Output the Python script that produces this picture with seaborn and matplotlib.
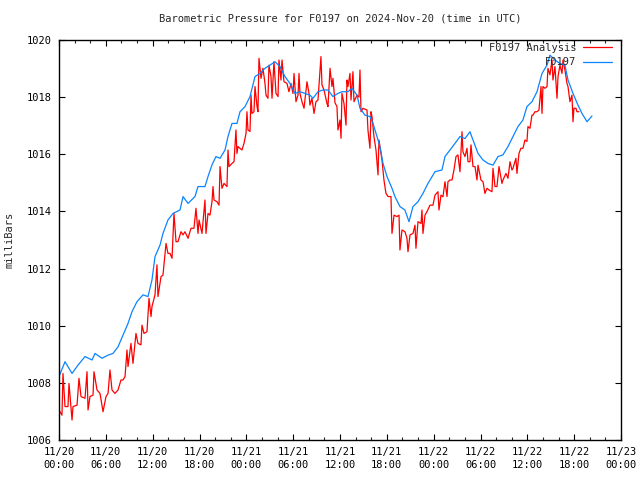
import pandas as pd
import matplotlib
matplotlib.use("Agg")
import matplotlib.pyplot as plt
import matplotlib.dates as mdates
from matplotlib.ticker import MultipleLocator
import seaborn as sns

# hours since 2024-11-20 00:00 UTC, pressure in milliBars
analysis_hours = [0.00, 0.38, 0.51, 0.77, 1.15, 1.28, 1.67, 1.79, 2.31, 2.56, 2.82, 3.33, 3.59, 3.72, 3.97,
                  4.36, 4.48, 4.87, 5.25, 5.64, 6.02, 6.28, 6.53, 6.79, 7.17, 7.56, 7.94, 8.20, 8.46, 8.71,
                  8.84, 9.22, 9.48, 9.86, 10.12, 10.50, 10.63, 10.89, 11.27, 11.53, 11.79, 11.91, 12.30, 12.55,
                  12.68, 13.07, 13.32, 13.71, 13.96, 14.22, 14.48, 14.73, 14.99, 15.24, 15.63, 15.89, 16.14,
                  16.53, 16.91, 17.29, 17.55, 17.81, 17.94, 18.32, 18.70, 18.83, 19.09, 19.34, 19.60, 19.73,
                  19.86, 20.24, 20.50, 20.63, 20.88, 21.14, 21.52, 21.65, 21.78, 22.16, 22.42, 22.67, 22.80,
                  22.93, 23.44, 23.70, 23.96, 24.08, 24.21, 24.47, 24.60, 24.72, 24.98, 25.11, 25.37, 25.49,
                  25.62, 25.88, 26.13, 26.39, 26.52, 26.77, 26.90, 27.16, 27.29, 27.54, 27.80, 28.06, 28.18,
                  28.44, 28.57, 28.82, 29.21, 29.46, 29.72, 29.98, 30.11, 30.36, 30.62, 30.75, 30.87, 31.13,
                  31.39, 31.77, 32.03, 32.15, 32.41, 32.67, 32.92, 33.18, 33.56, 33.69, 33.95, 34.33, 34.46,
                  34.72, 34.97, 35.10, 35.36, 35.61, 35.74, 36.00, 36.13, 36.25, 36.51, 36.77, 36.89, 37.02,
                  37.28, 37.41, 37.66, 37.79, 38.18, 38.43, 38.56, 38.69, 38.94, 39.46, 39.58, 39.84, 39.97,
                  40.10, 40.35, 40.61, 40.87, 40.99, 41.38, 41.63, 41.89, 42.15, 42.53, 42.66, 42.92, 43.30,
                  43.56, 43.68, 43.94, 44.32, 44.58, 44.71, 44.97, 45.35, 45.61, 45.73, 45.99, 46.38, 46.50,
                  46.63, 46.89, 47.14, 47.53, 47.91, 48.17, 48.55, 48.68, 48.94, 49.19, 49.45, 49.71, 49.83,
                  50.09, 50.35, 50.60, 50.86, 51.11, 51.37, 51.63, 51.75, 52.01, 52.27, 52.40, 52.65, 52.78,
                  53.04, 53.30, 53.55, 53.68, 54.06, 54.32, 54.57, 54.83, 55.09, 55.47, 55.60, 55.86, 56.11,
                  56.37, 56.75, 56.88, 57.26, 57.52, 57.78, 58.03, 58.16, 58.54, 58.67, 58.93, 59.18, 59.44,
                  59.70, 59.95, 60.08, 60.34, 60.59, 60.72, 60.98, 61.24, 61.49, 61.75, 61.88, 62.00, 62.26,
                  62.52, 62.64, 62.90, 63.16, 63.28, 63.54, 63.80, 63.93, 64.18, 64.44, 64.57, 64.82, 65.08,
                  65.21, 65.46, 65.72, 65.85, 65.97, 66.23, 66.36, 66.61]
analysis_mb = [1007.05, 1006.87, 1008.33, 1007.17, 1007.17, 1007.98, 1006.70, 1007.17, 1007.22, 1008.16,
               1007.52, 1007.46, 1008.39, 1007.05, 1007.52, 1007.57, 1008.39, 1007.75, 1007.63, 1006.99,
               1007.52, 1007.63, 1008.45, 1007.75, 1007.63, 1007.75, 1008.10, 1008.10, 1008.22, 1009.15,
               1008.57, 1009.38, 1008.68, 1009.73, 1009.38, 1009.33, 1010.02, 1009.73, 1009.79, 1010.96,
               1010.32, 1010.67, 1011.08, 1012.13, 1011.02, 1011.72, 1011.77, 1012.88, 1012.53, 1012.53,
               1012.36, 1013.93, 1012.94, 1012.94, 1013.29, 1013.18, 1013.29, 1013.06, 1013.41, 1013.41,
               1014.11, 1013.23, 1013.70, 1013.23, 1014.40, 1013.23, 1013.93, 1013.87, 1014.34, 1014.87,
               1014.40, 1014.34, 1014.22, 1015.57, 1014.81, 1014.98, 1014.87, 1016.15, 1015.57, 1015.68,
               1015.74, 1016.85, 1016.03, 1016.27, 1016.15, 1016.38, 1016.73, 1017.49, 1016.85, 1016.80,
               1018.07, 1017.43, 1017.49, 1018.37, 1017.67, 1017.49, 1019.36, 1018.66, 1019.01, 1018.48,
               1018.07, 1017.96, 1019.12, 1018.72, 1017.96, 1019.24, 1018.13, 1018.02, 1019.30, 1018.60,
               1019.30, 1018.54, 1018.48, 1018.19, 1018.48, 1018.13, 1018.83, 1017.84, 1018.07, 1018.83,
               1018.13, 1017.84, 1017.61, 1018.54, 1018.13, 1017.72, 1017.96, 1017.43, 1017.84, 1017.90,
               1019.42, 1018.43, 1018.25, 1017.78, 1017.67, 1019.01, 1018.37, 1018.66, 1017.80, 1017.67,
               1016.85, 1017.20, 1016.56, 1018.13, 1017.78, 1017.02, 1018.60, 1018.37, 1018.83, 1017.90,
               1018.89, 1017.84, 1018.07, 1018.00, 1018.95, 1017.49, 1017.61, 1017.55, 1016.85, 1016.21,
               1017.49, 1017.32, 1016.62, 1016.15, 1015.28, 1016.50, 1015.80, 1015.10, 1014.63, 1014.52,
               1014.52, 1013.23, 1013.87, 1013.82, 1013.87, 1012.65, 1013.35, 1013.29, 1013.06, 1012.59,
               1013.18, 1013.23, 1013.52, 1012.71, 1013.64, 1013.58, 1014.05, 1013.23, 1013.87, 1013.99,
               1014.22, 1014.22, 1014.57, 1014.69, 1014.05, 1014.57, 1014.51, 1015.04, 1014.52, 1015.04,
               1015.10, 1015.10, 1015.45, 1015.92, 1015.98, 1015.39, 1016.79, 1016.09, 1015.92, 1016.21,
               1015.74, 1015.74, 1016.33, 1015.57, 1015.57, 1015.10, 1015.62, 1015.10, 1015.04, 1014.63,
               1014.81, 1014.75, 1014.69, 1015.51, 1014.87, 1014.87, 1015.57, 1014.98, 1015.10, 1015.33,
               1015.16, 1015.74, 1015.45, 1015.51, 1015.86, 1015.33, 1016.03, 1016.21, 1016.21, 1016.50,
               1016.45, 1016.97, 1016.91, 1017.37, 1017.37, 1017.49, 1017.49, 1017.55, 1018.37, 1017.43,
               1018.37, 1018.31, 1018.37, 1019.01, 1018.78, 1019.30, 1018.60, 1019.07, 1017.96, 1018.72,
               1019.12, 1018.83, 1019.30, 1018.95, 1018.48, 1018.37, 1017.84, 1018.07, 1017.14, 1017.61,
               1017.61, 1017.49, 1017.49]

station_hours = [0.00, 0.77, 1.67, 2.43, 3.33, 4.23, 4.61, 5.51, 6.28, 6.92, 7.56, 8.20, 8.84, 9.35, 9.99,
                 10.76, 11.40, 11.91, 12.30, 12.94, 13.32, 13.96, 14.60, 15.50, 15.89, 16.53, 17.42, 17.81,
                 18.70, 19.09, 19.60, 20.11, 20.63, 21.27, 21.65, 22.16, 22.80, 23.19, 23.83, 24.47, 25.11,
                 25.75, 26.39, 27.03, 27.67, 28.31, 28.95, 29.59, 30.23, 30.87, 31.51, 32.15, 32.54, 33.18,
                 33.82, 34.46, 35.10, 35.74, 36.25, 37.02, 37.53, 38.18, 38.56, 39.20, 39.84, 40.23, 40.74,
                 41.12, 41.51, 42.02, 42.66, 43.04, 43.68, 44.32, 44.84, 45.35, 45.99, 46.63, 47.27, 48.17,
                 49.06, 49.45, 50.09, 50.73, 51.37, 52.01, 52.65, 53.04, 53.68, 54.32, 54.96, 55.60, 56.24,
                 56.88, 57.52, 58.16, 58.80, 59.44, 59.95, 60.59, 61.24, 61.88, 62.52, 62.90, 63.54, 64.18,
                 64.82, 65.21, 65.85, 66.49, 67.00, 67.38, 67.64, 68.03, 68.28]
station_mb = [1008.22, 1008.74, 1008.33, 1008.62, 1008.92, 1008.80, 1009.03, 1008.86, 1008.97, 1009.03,
              1009.26, 1009.67, 1010.08, 1010.49, 1010.84, 1011.08, 1011.02, 1011.60, 1012.42, 1012.82,
              1013.23, 1013.70, 1013.93, 1014.05, 1014.52, 1014.28, 1014.52, 1014.87, 1014.87, 1015.22,
              1015.63, 1015.92, 1015.86, 1016.15, 1016.62, 1017.08, 1017.08, 1017.49, 1017.67, 1018.02,
              1018.72, 1018.83, 1019.01, 1019.12, 1019.24, 1019.07, 1018.72, 1018.48, 1018.13, 1018.19,
              1018.13, 1018.07, 1017.96, 1018.19, 1018.25, 1018.25, 1018.02, 1018.13, 1018.19, 1018.19,
              1018.31, 1018.07, 1017.61, 1017.37, 1017.32, 1017.08, 1016.62, 1016.27, 1015.68, 1015.22,
              1014.81, 1014.52, 1014.17, 1014.05, 1013.64, 1014.17, 1014.34, 1014.63, 1014.98, 1015.39,
              1015.45, 1015.92, 1016.15, 1016.38, 1016.62, 1016.55, 1016.79, 1016.50, 1016.03, 1015.80,
              1015.68, 1015.62, 1015.92, 1015.98, 1016.27, 1016.62, 1016.97, 1017.20, 1017.67, 1017.84,
              1018.19, 1018.83, 1019.12, 1019.47, 1019.30, 1019.18, 1019.12, 1018.60, 1018.13, 1017.72,
              1017.43, 1017.26, 1017.14, 1017.26, 1017.34]

series_names = ["F0197 Analysis", "F0197"]
series_colors = ["#ff0000", "#0a84ff"]

start = pd.Timestamp("2024-11-20 00:00")
df = pd.concat([
    pd.DataFrame({"hours": analysis_hours, "mb": analysis_mb, "series": series_names[0]}),
    pd.DataFrame({"hours": station_hours, "mb": station_mb, "series": series_names[1]}),
], ignore_index=True)
df["time"] = start + pd.to_timedelta(df["hours"], unit="h")

FS = 7.5
sns.set_style("ticks")
plt.rcParams["font.family"] = ["DejaVu Sans Mono", "DejaVu Sans"]
plt.rcParams["font.size"] = FS

fig = plt.figure(figsize=(6.4, 4.8), dpi=100)
ax = fig.add_axes([59 / 640, 40 / 480, 562 / 640, 400 / 480])

sns.lineplot(data=df, x="time", y="mb", hue="series", hue_order=series_names,
             palette=dict(zip(series_names, series_colors)), sort=False, estimator=None,
             linewidth=0.9, ax=ax)

ax.set_xlim(start, start + pd.Timedelta(hours=72))
ax.set_ylim(1006, 1020)
ax.xaxis.set_major_locator(mdates.HourLocator(byhour=[0, 6, 12, 18]))
ax.xaxis.set_minor_locator(mdates.HourLocator(byhour=range(0, 24, 2)))
ax.xaxis.set_major_formatter(mdates.DateFormatter("%m/%d\n%H:%M"))
ax.yaxis.set_major_locator(MultipleLocator(2))

for side in ["top", "right", "bottom", "left"]:
    ax.spines[side].set_color("black")
    ax.spines[side].set_linewidth(1.0)
ax.tick_params(axis="both", which="major", direction="in", length=4, width=0.8,
               top=True, right=True, labelsize=FS, colors="black")
ax.tick_params(axis="x", which="minor", direction="in", length=2.5, width=0.8, top=True)
ax.tick_params(axis="x", which="major", pad=5)
ax.tick_params(axis="y", which="major", pad=5)
fig.canvas.draw()
for lab in ax.get_xticklabels():
    lab.set_linespacing(1.35)

ax.set_title("Barometric Pressure for F0197 on 2024-Nov-20 (time in UTC)", fontsize=FS, pad=13)
ax.set_xlabel("")
ax.set_ylabel("milliBars", fontsize=FS, labelpad=9)

handles, labels = ax.get_legend_handles_labels()
ax.legend(handles, labels, loc="upper right", bbox_to_anchor=(553 / 562, 397 / 400),
          frameon=False, markerfirst=False, fontsize=FS, handlelength=2.8,
          handletextpad=0.6, labelspacing=0.4, borderpad=0.0, borderaxespad=0.0)

fig.savefig("out.png", dpi=100, facecolor="white")
